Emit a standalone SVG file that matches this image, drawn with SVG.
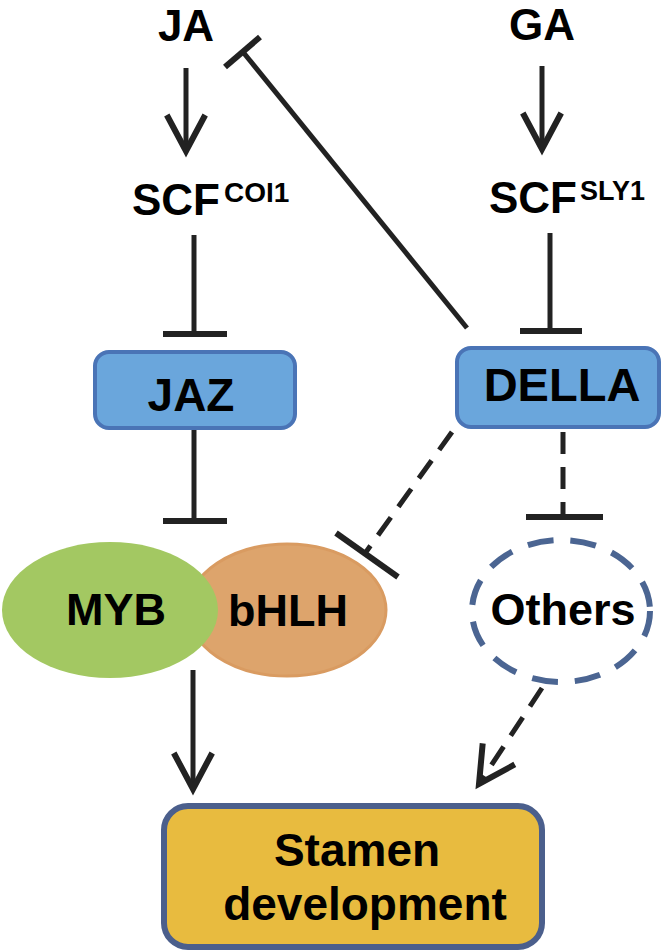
<svg xmlns="http://www.w3.org/2000/svg" width="664" height="952" viewBox="0 0 664 952">
<defs>
<style>
.t{font-family:"Liberation Sans",Arial,sans-serif;font-weight:bold;fill:#000}
.ln{stroke:#222;stroke-width:5;fill:none}
.bar{stroke:#222;stroke-width:6;fill:none}
.dash{stroke-dasharray:22 13}
.box{fill:#6aa6dc;stroke:#4a74b6;stroke-width:4}
</style>
<marker id="arr" markerUnits="userSpaceOnUse" markerWidth="60" markerHeight="60" viewBox="-40 -25 50 50" refX="0" refY="0" orient="auto" overflow="visible">
<path d="M-30,-16 L0,0 L-30,16" fill="none" stroke="#222" stroke-width="5"/>
</marker>
</defs>
<rect width="664" height="952" fill="#fff"/>

<g id="connectors">
<line class="ln" x1="186" y1="68" x2="186" y2="151" marker-end="url(#arr)"/>
<line class="ln" x1="542" y1="66" x2="542" y2="149" marker-end="url(#arr)"/>
<line class="ln" x1="194" y1="235" x2="194" y2="334"/>
<line class="bar" x1="163" y1="334" x2="227" y2="334"/>
<line class="ln" x1="550" y1="233" x2="550" y2="331"/>
<line class="bar" x1="520" y1="331" x2="582" y2="331"/>
<line class="ln" x1="467" y1="328" x2="243" y2="52"/>
<line class="bar" x1="225" y1="67" x2="260" y2="37"/>
<line class="ln" x1="194" y1="430" x2="194" y2="521"/>
<line class="bar" x1="163" y1="521" x2="227" y2="521"/>
<line class="ln dash" x1="452" y1="432" x2="366" y2="552"/>
<line class="bar" x1="336" y1="533" x2="398" y2="577"/>
<line class="ln dash" x1="563" y1="432" x2="563" y2="517"/>
<line class="bar" x1="526" y1="517" x2="603" y2="517"/>
<line class="ln" x1="193" y1="670" x2="193" y2="789" marker-end="url(#arr)"/>
<line class="ln dash" x1="542" y1="688" x2="479" y2="784" marker-end="url(#arr)"/>
</g>

<g id="JA"><text class="t" x="186" y="41" font-size="44" text-anchor="middle">JA</text></g>
<g id="GA"><text class="t" x="542" y="40" font-size="44" text-anchor="middle">GA</text></g>
<g id="SCF_COI1"><text class="t" font-size="44"><tspan x="132" y="215">SCF</tspan><tspan x="224" y="202" font-size="28">COI1</tspan></text></g>
<g id="SCF_SLY1"><text class="t" font-size="44"><tspan x="489" y="213">SCF</tspan><tspan x="580" y="200" font-size="27">SLY1</tspan></text></g>

<g id="JAZ">
<rect class="box" x="95" y="352" width="200" height="76" rx="14"/>
<text class="t" x="191" y="411" font-size="46" text-anchor="middle">JAZ</text>
</g>
<g id="DELLA">
<rect class="box" x="457" y="348" width="202" height="79" rx="14"/>
<text class="t" x="562" y="401" font-size="47" text-anchor="middle">DELLA</text>
</g>

<g id="bHLH">
<ellipse cx="287" cy="610" rx="99" ry="66" fill="#dda46c" stroke="#d99b61" stroke-width="3"/>
<text class="t" x="288" y="626" font-size="45" text-anchor="middle">bHLH</text>
</g>
<g id="MYB">
<ellipse cx="110" cy="610" rx="108" ry="68" fill="#a3c862"/>
<text class="t" x="116" y="625" font-size="45" text-anchor="middle">MYB</text>
</g>

<g id="Others">
<ellipse cx="561" cy="611" rx="89" ry="71" fill="none" stroke="#4b6592" stroke-width="6" stroke-dasharray="26 17"/>
<text class="t" x="563" y="625" font-size="45" text-anchor="middle">Others</text>
</g>

<g id="Stamen">
<rect x="164" y="806" width="378" height="141" rx="24" fill="#e8bb3f" stroke="#4b5f8c" stroke-width="6"/>
<text class="t" x="357" y="866" font-size="46" text-anchor="middle">Stamen</text>
<text class="t" x="365" y="920" font-size="46" text-anchor="middle">development</text>
</g>
</svg>
